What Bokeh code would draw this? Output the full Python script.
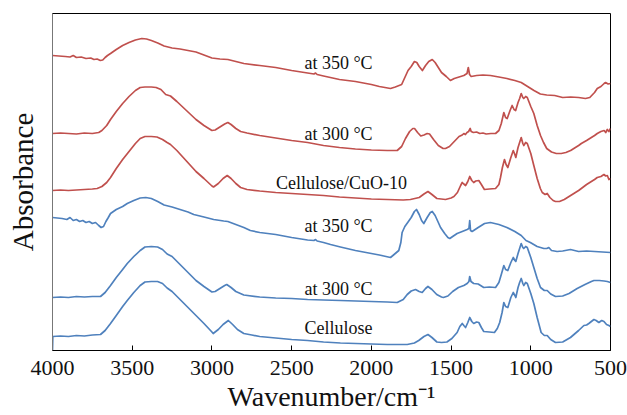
from bokeh.plotting import figure
from bokeh.models import Range1d, FixedTicker, ColumnDataSource
from bokeh.core.properties import value
from bokeh.embed import file_html
from bokeh.resources import INLINE

# ---- data (wavenumber in cm^-1, absorbance in offset arbitrary units) ----
w_red350 = [4000, 3960, 3920, 3890, 3870, 3850, 3820, 3790, 3760, 3740, 3720, 3700, 3685, 3670, 3655, 3636, 3600,
            3560, 3520, 3480, 3440, 3410, 3380, 3340, 3300, 3250, 3200, 3150, 3100, 3050, 3000, 2950, 2900, 2850,
            2800, 2700, 2600, 2500, 2400, 2360, 2350, 2340, 2300, 2200, 2100, 2000, 1950, 1880, 1850, 1810, 1790,
            1770, 1750, 1730, 1715, 1700, 1680, 1660, 1640, 1618, 1600, 1580, 1560, 1530, 1504, 1480, 1450, 1420,
            1400, 1392, 1384, 1374, 1340, 1300, 1253, 1200, 1150, 1100, 1060, 1020, 980, 940, 900, 850, 800, 750,
            700, 657, 630, 600, 583, 560, 540, 531, 515, 500]
a_red350 = [2.95, 2.945, 2.94, 2.935, 2.95, 2.93, 2.935, 2.92, 2.925, 2.91, 2.915, 2.90, 2.905, 2.93, 2.95, 2.97, 3.01,
            3.05, 3.08, 3.105, 3.12, 3.115, 3.10, 3.075, 3.045, 3.025, 3.015, 3.0, 2.985, 2.955, 2.925, 2.915, 2.91, 2.89,
            2.87, 2.85, 2.83, 2.80, 2.775, 2.765, 2.775, 2.76, 2.745, 2.71, 2.69, 2.66, 2.64, 2.62, 2.635, 2.66, 2.73,
            2.80, 2.84, 2.89, 2.88, 2.84, 2.80, 2.85, 2.89, 2.91, 2.88, 2.83, 2.78, 2.74, 2.70, 2.72, 2.735, 2.75,
            2.77, 2.83, 2.76, 2.74, 2.75, 2.755, 2.75, 2.735, 2.72, 2.70, 2.68, 2.64, 2.60, 2.565, 2.555, 2.55, 2.53, 2.535,
            2.53, 2.52, 2.53, 2.58, 2.62, 2.64, 2.67, 2.68, 2.665, 2.67]

w_red300 = [4000, 3950, 3900, 3850, 3800, 3750, 3710, 3690, 3660, 3636, 3600, 3560, 3520, 3480, 3450, 3420, 3380,
            3350, 3320, 3290, 3260, 3220, 3180, 3140, 3100, 3050, 3000, 2980, 2950, 2920, 2900, 2880, 2850, 2820,
            2780, 2700, 2600, 2500, 2400, 2300, 2200, 2100, 2000, 1900, 1838, 1810, 1786, 1760, 1740, 1729, 1710,
            1690, 1670, 1650, 1635, 1610, 1580, 1550, 1535, 1510, 1480, 1450, 1430, 1420, 1410, 1400, 1390, 1380,
            1374, 1360, 1340, 1320, 1300, 1280, 1250, 1221, 1200, 1185, 1169, 1158, 1148, 1130, 1117, 1105, 1095,
            1080, 1070, 1060, 1050, 1044, 1032, 1022, 1000, 981, 960, 939, 920, 900, 870, 840, 809, 780, 750, 720,
            700, 683, 650, 620, 600, 583, 560, 540, 530, 520, 510, 500]
a_red300 = [2.17, 2.175, 2.17, 2.165, 2.175, 2.17, 2.18, 2.20, 2.25, 2.31, 2.39, 2.47, 2.54, 2.60, 2.63, 2.635, 2.635,
            2.63, 2.61, 2.56, 2.545, 2.49, 2.43, 2.37, 2.31, 2.25, 2.20, 2.205, 2.235, 2.265, 2.28, 2.26, 2.22, 2.19,
            2.175, 2.15, 2.125, 2.10, 2.08, 2.05, 2.03, 2.015, 2.005, 2.0, 2.00, 2.04, 2.12, 2.19, 2.22, 2.22, 2.18,
            2.145, 2.155, 2.17, 2.165, 2.11, 2.05, 2.02, 2.02, 2.04, 2.09, 2.14, 2.155, 2.17, 2.16, 2.18, 2.19, 2.22,
            2.19, 2.18, 2.185, 2.17, 2.175, 2.165, 2.17, 2.17, 2.20, 2.27, 2.38, 2.33, 2.32, 2.40, 2.45, 2.41, 2.40,
            2.48, 2.52, 2.57, 2.53, 2.52, 2.54, 2.53, 2.44, 2.37, 2.25, 2.15, 2.08, 2.02, 1.985, 1.97, 1.97, 1.98, 2.00, 2.03,
            2.05, 2.07, 2.10, 2.13, 2.15, 2.17, 2.19, 2.20, 2.18, 2.21, 2.19, 2.22]

w_cuo = [4000, 3950, 3900, 3850, 3800, 3750, 3720, 3690, 3660, 3636, 3600, 3560, 3520, 3480, 3450, 3420, 3380,
         3345, 3310, 3281, 3260, 3220, 3180, 3140, 3100, 3050, 3000, 2990, 2960, 2930, 2904, 2880, 2850, 2820,
         2780, 2700, 2600, 2500, 2400, 2300, 2200, 2100, 2000, 1900, 1800, 1755, 1700, 1670, 1645, 1620, 1589,
         1535, 1500, 1482, 1460, 1440, 1430, 1420, 1409, 1395, 1383, 1370, 1358, 1345, 1326, 1310, 1291, 1260,
         1221, 1200, 1190, 1178, 1165, 1155, 1144, 1125, 1110, 1100, 1094, 1080, 1070, 1060, 1050, 1044, 1032,
         1022, 1000, 981, 960, 940, 928, 910, 897, 880, 860, 845, 820, 790, 760, 730, 700, 683, 650, 620, 600,
         583, 560, 541, 530, 520, 510, 500]
a_cuo = [1.60, 1.605, 1.60, 1.605, 1.61, 1.615, 1.62, 1.64, 1.68, 1.73, 1.82, 1.91, 1.99, 2.07, 2.12, 2.14, 2.14,
         2.135, 2.11, 2.08, 2.06, 2.0, 1.93, 1.86, 1.79, 1.72, 1.645, 1.635, 1.67, 1.72, 1.75, 1.72, 1.67, 1.63,
         1.61, 1.595, 1.58, 1.57, 1.56, 1.55, 1.535, 1.525, 1.515, 1.51, 1.505, 1.51, 1.53, 1.565, 1.59, 1.56, 1.52,
         1.51, 1.525, 1.54, 1.58, 1.65, 1.68, 1.665, 1.65, 1.69, 1.74, 1.70, 1.68, 1.695, 1.70, 1.66, 1.61, 1.615,
         1.62, 1.66, 1.73, 1.83, 1.91, 1.86, 1.83, 1.93, 2.00, 1.96, 1.93, 2.03, 2.08, 2.13, 2.07, 2.05, 2.08,
         2.07, 1.97, 1.85, 1.72, 1.62, 1.58, 1.56, 1.57, 1.53, 1.50, 1.49, 1.49, 1.51, 1.54, 1.57, 1.60, 1.62, 1.66, 1.69, 1.71,
         1.73, 1.74, 1.76, 1.745, 1.75, 1.71, 1.72]

w_blue350 = [4000, 3970, 3940, 3910, 3890, 3870, 3850, 3830, 3810, 3790, 3770, 3750, 3730, 3710, 3695, 3680, 3665,
             3650, 3636, 3600, 3560, 3531, 3490, 3450, 3415, 3380, 3340, 3300, 3250, 3200, 3150, 3114, 3050, 2989,
             2926, 2900, 2850, 2800, 2759, 2700, 2600, 2500, 2400, 2360, 2350, 2340, 2300, 2256, 2194, 2100, 2000,
             1950, 1880, 1850, 1828, 1815, 1807, 1790, 1772, 1750, 1730, 1717, 1700, 1685, 1671, 1650, 1630, 1618,
             1600, 1580, 1566, 1540, 1520, 1508, 1490, 1462, 1430, 1399, 1388, 1383, 1378, 1368, 1330, 1290, 1253,
             1200, 1150, 1100, 1060, 1030, 1003, 960, 918, 900, 887, 870, 835, 800, 751, 700, 650, 600, 550, 500]
a_blue350 = [1.33, 1.325, 1.32, 1.31, 1.33, 1.30, 1.31, 1.29, 1.30, 1.28, 1.29, 1.27, 1.28, 1.25, 1.23, 1.24, 1.29,
             1.33, 1.37, 1.41, 1.44, 1.47, 1.50, 1.525, 1.53, 1.52, 1.49, 1.455, 1.435, 1.41, 1.385, 1.36, 1.335, 1.31,
             1.295, 1.29, 1.26, 1.23, 1.20, 1.18, 1.16, 1.13, 1.105, 1.10, 1.11, 1.095, 1.08, 1.06, 1.035, 1.00, 0.97,
             0.955, 0.93, 0.97, 1.00, 1.08, 1.18, 1.24, 1.28, 1.33, 1.39, 1.41, 1.36, 1.30, 1.27, 1.33, 1.38, 1.39,
             1.35, 1.28, 1.23, 1.17, 1.13, 1.12, 1.14, 1.17, 1.19, 1.21, 1.22, 1.30, 1.20, 1.19, 1.23, 1.27, 1.28,
             1.26, 1.23, 1.19, 1.15, 1.10, 1.08, 1.04, 1.02, 1.02, 1.03, 1.00, 0.99, 0.995, 1.01, 0.99, 0.995, 0.99, 0.985, 0.98]

w_blue300 = [4000, 3950, 3900, 3850, 3800, 3750, 3699, 3670, 3636, 3600, 3560, 3531, 3490, 3450, 3420, 3380, 3341,
             3310, 3281, 3250, 3200, 3150, 3100, 3050, 3000, 2980, 2950, 2920, 2907, 2880, 2850, 2800, 2700, 2600,
             2500, 2400, 2300, 2194, 2000, 1900, 1838, 1800, 1775, 1750, 1723, 1700, 1681, 1660, 1645, 1620, 1590,
             1560, 1548, 1520, 1490, 1454, 1420, 1399, 1388, 1383, 1375, 1358, 1330, 1295, 1260, 1221, 1200, 1185,
             1169, 1158, 1144, 1125, 1110, 1100, 1094, 1080, 1070, 1060, 1050, 1044, 1032, 1022, 1000, 981, 960, 939,
             915, 897, 875, 845, 800, 760, 709, 660, 620, 604, 570, 540, 520, 500]
a_blue300 = [0.53, 0.535, 0.53, 0.54, 0.535, 0.54, 0.54, 0.58, 0.65, 0.73, 0.81, 0.87, 0.94, 1.00, 1.035, 1.04, 1.035,
             1.01, 0.965, 0.94, 0.86, 0.78, 0.70, 0.64, 0.585, 0.59, 0.62, 0.65, 0.66, 0.63, 0.59, 0.555, 0.535, 0.525,
             0.52, 0.51, 0.505, 0.50, 0.49, 0.485, 0.48, 0.51, 0.56, 0.595, 0.61, 0.59, 0.58, 0.62, 0.64, 0.61, 0.56,
             0.535, 0.53, 0.545, 0.59, 0.63, 0.65, 0.67, 0.69, 0.74, 0.69, 0.67, 0.665, 0.63, 0.635, 0.63, 0.68, 0.76,
             0.85, 0.81, 0.80, 0.88, 0.93, 0.90, 0.89, 0.97, 1.02, 1.07, 1.03, 1.02, 1.04, 1.03, 0.93, 0.83, 0.72, 0.63,
             0.60, 0.60, 0.565, 0.54, 0.545, 0.57, 0.62, 0.66, 0.69, 0.70, 0.70, 0.695, 0.69, 0.68]

w_cell = [4000, 3998, 3950, 3900, 3850, 3800, 3750, 3699, 3670, 3636, 3600, 3560, 3531, 3490, 3450, 3420, 3380,
          3341, 3310, 3281, 3250, 3200, 3150, 3100, 3050, 3000, 2992, 2960, 2930, 2897, 2870, 2840, 2800, 2750,
          2700, 2600, 2500, 2400, 2300, 2194, 2000, 1900, 1775, 1730, 1703, 1670, 1645, 1620, 1589, 1560, 1526,
          1495, 1462, 1445, 1430, 1420, 1409, 1395, 1383, 1370, 1358, 1340, 1326, 1310, 1295, 1260, 1228, 1210,
          1195, 1180, 1169, 1158, 1144, 1125, 1110, 1100, 1094, 1080, 1070, 1060, 1050, 1044, 1032, 1022, 1000,
          981, 960, 935, 915, 897, 875, 845, 800, 751, 700, 667, 650, 636, 620, 604, 590, 573, 555, 541, 525, 510, 500]
a_cell = [0.00, 0.14, 0.145, 0.14, 0.15, 0.145, 0.155, 0.16, 0.20, 0.27, 0.35, 0.44, 0.50, 0.58, 0.65, 0.685, 0.69,
          0.69, 0.67, 0.625, 0.59, 0.51, 0.43, 0.35, 0.27, 0.185, 0.17, 0.21, 0.26, 0.30, 0.26, 0.21, 0.17, 0.155,
          0.14, 0.125, 0.11, 0.10, 0.085, 0.075, 0.065, 0.06, 0.06, 0.075, 0.10, 0.14, 0.16, 0.13, 0.085, 0.08, 0.085,
          0.12, 0.18, 0.24, 0.27, 0.25, 0.23, 0.28, 0.33, 0.29, 0.27, 0.285, 0.28, 0.23, 0.19, 0.185, 0.18, 0.22,
          0.28, 0.38, 0.48, 0.44, 0.43, 0.53, 0.58, 0.55, 0.53, 0.63, 0.68, 0.72, 0.67, 0.65, 0.68, 0.67, 0.57,
          0.47, 0.33, 0.18, 0.15, 0.15, 0.11, 0.08, 0.085, 0.13, 0.20, 0.25, 0.255, 0.27, 0.29, 0.31, 0.30, 0.28, 0.30, 0.29, 0.26, 0.25, 0.24]

labels = ["at 350 \u00b0C", "at 300 \u00b0C", "Cellulose/CuO-10", "at 350 \u00b0C", "at 300 \u00b0C", "Cellulose"]
label_w = [2206, 2206, 2187, 2206, 2206, 2206]
label_a = [2.88, 2.17, 1.68, 1.25, 0.62, 0.23]

x_ticks = [4000, 3500, 3000, 2500, 2000, 1500, 1000, 500]

RED = "#C0504D"
BLUE = "#4F81BD"
SERIF = "Liberation Serif"
INK = "#111111"

p = figure(width=627, height=415, output_backend="svg", toolbar_location=None,
           x_range=Range1d(4000, 500), y_range=Range1d(0, 3.37),
           min_border_left=52, min_border_right=17, min_border_top=13, min_border_bottom=65)
p.grid.visible = False
p.background_fill_color = "white"
p.border_fill_color = "white"
p.outline_line_color = "black"
p.outline_line_width = 1

series = [(w_red350, a_red350, RED), (w_red300, a_red300, RED), (w_cuo, a_cuo, RED),
          (w_blue350, a_blue350, BLUE), (w_blue300, a_blue300, BLUE), (w_cell, a_cell, BLUE)]
for ws, As, c in series:
    p.line(ws, As, line_color=c, line_width=1.7, line_join="round")

src = ColumnDataSource(dict(x=label_w, y=label_a, t=labels))
p.text(x="x", y="y", text="t", source=src, text_align="center", text_baseline="middle",
       text_font=value(SERIF), text_font_size="18px", text_color=INK)

xa = p.xaxis[0]
xa.ticker = FixedTicker(ticks=x_ticks)
xa.minor_tick_line_color = None
xa.major_tick_in = 5
xa.major_tick_out = 0
xa.major_tick_line_color = "black"
xa.axis_line_color = "black"
xa.major_label_text_font = SERIF
xa.major_label_text_font_size = "22px"
xa.major_label_text_color = INK
xa.major_label_standoff = 10
xa.axis_label = "Wavenumber/cm\u207b\u00b9"
xa.axis_label_text_font = SERIF
xa.axis_label_text_font_size = "28px"
xa.axis_label_text_font_style = "normal"
xa.axis_label_text_color = INK
xa.axis_label_standoff = 3

ya = p.yaxis[0]
ya.ticker = FixedTicker(ticks=[])
ya.minor_tick_line_color = None
ya.major_tick_line_color = None
ya.major_label_text_font_size = "0px"
ya.major_label_standoff = 0
ya.axis_line_color = "#777777"
ya.axis_label = "Absorbance"
ya.axis_label_text_font = SERIF
ya.axis_label_text_font_size = "29px"
ya.axis_label_text_font_style = "normal"
ya.axis_label_text_color = INK
ya.axis_label_standoff = 14

html = file_html(p, INLINE)
open("out.html", "w").write(html)
